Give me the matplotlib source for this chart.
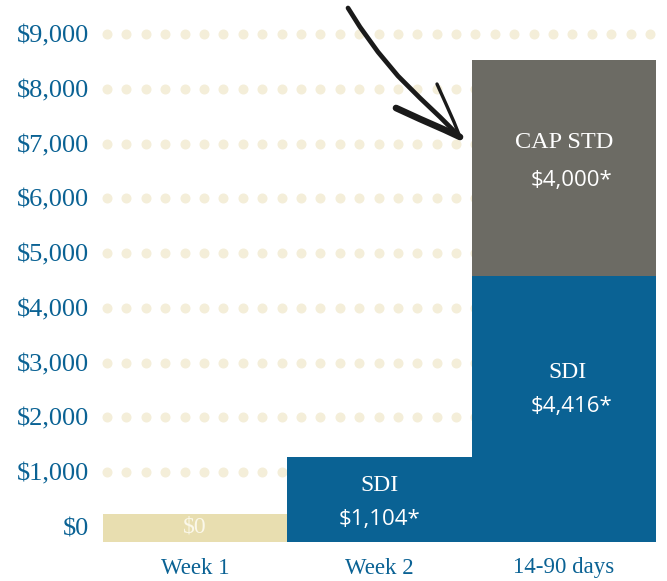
import matplotlib
matplotlib.use('Agg')
import matplotlib.pyplot as plt
import numpy as np

# --- data ---
categories = ['Week 1', 'Week 2', '14-90 days']
bar_base = -280                      # bars sit a little below the $0 line
week1_top = 235
sdi_tops = [1275, 4580]              # Week 2, 14-90 days
cap_std_top = 8525
y_ticks = [0, 1000, 2000, 3000, 4000, 5000, 6000, 7000, 8000, 9000]
y_tick_labels = ['$0', '$1,000', '$2,000', '$3,000', '$4,000',
                 '$5,000', '$6,000', '$7,000', '$8,000', '$9,000']

BLUE = '#0a6294'
BEIGE = '#e8deb0'
GRAY = '#6c6b64'
DOT = '#f4eed9'
SERIF = 'Liberation Serif'
SANS = 'Open Sans'

W, H = 667, 581
fig = plt.figure(figsize=(W / 100, H / 100), dpi=100)
ax = fig.add_axes([100 / W, (H - 545) / H, 567 / W, 545 / H])
ax.set_xlim(-0.515, 2.558)
ax.set_ylim(-333, 9621)

# --- dotted grid rows ---
dot_x = np.linspace(-0.477, 2.466, 29)
for yv in y_ticks[1:]:
    ax.scatter(dot_x, [yv] * len(dot_x), s=52, color=DOT, linewidths=0, zorder=1)

# --- bars ---
ax.bar(0, week1_top - bar_base, bottom=bar_base, width=1.0, color=BEIGE, zorder=2)
ax.bar([1, 2], [t - bar_base for t in sdi_tops], bottom=bar_base, width=1.0,
       color=BLUE, zorder=2)
ax.bar(2, cap_std_top - sdi_tops[1], bottom=sdi_tops[1], width=1.0,
       color=GRAY, zorder=2)

# --- labels inside bars ---
ax.text(0, 0, '$0', ha='center', va='center', family=SERIF, fontsize=17,
        color='#fbf8ea', zorder=3)
ax.text(1, 750, 'SDI', ha='center', va='center', family=SERIF, fontsize=17,
        color='white', zorder=3)
ax.text(1, 140, '$1,104*', ha='center', va='center', family=SANS, fontsize=16,
        color='white', zorder=3)
ax.text(2.02, 2820, 'SDI', ha='center', va='center', family=SERIF, fontsize=17,
        color='white', zorder=3)
ax.text(2.04, 2200, '$4,416*', ha='center', va='center', family=SANS, fontsize=16,
        color='white', zorder=3)
ax.text(2.0, 7010, 'CAP STD', ha='center', va='center', family=SERIF, fontsize=17.5,
        color='white', zorder=3)
ax.text(2.04, 6330, '$4,000*', ha='center', va='center', family=SANS, fontsize=16,
        color='white', zorder=3)

# --- axes styling ---
ax.set_yticks(y_ticks)
ax.set_yticklabels(y_tick_labels, family=SERIF, fontsize=19, color=BLUE)
ax.set_xticks(range(len(categories)))
ax.set_xticklabels(categories, family=SERIF, fontsize=16.5, color=BLUE)
ax.tick_params(axis='y', length=0, pad=8)
ax.tick_params(axis='x', length=0, pad=9)
for s in ax.spines.values():
    s.set_visible(False)

# --- hand-drawn arrow (figure pixel coords, y from top) ---
def px(pts):
    return [p[0] / W for p in pts], [1 - p[1] / H for p in pts]

shaft = [(348, 8), (360, 27), (378, 52), (398, 76), (420, 98), (440, 117), (460, 137)]
barb_left = [(396, 108), (420, 119), (445, 130), (460, 137)]
barb_right = [(437, 84), (446, 104), (454, 122), (460, 137)]
for pts, lw in [(shaft, 3.4), (barb_left, 4.8), (barb_right, 2.4)]:
    xs, ys = px(pts)
    fig.add_artist(plt.Line2D(xs, ys, transform=fig.transFigure, color='#1a1a1a',
                              linewidth=lw, solid_capstyle='round', zorder=5))

fig.savefig('out.png', dpi=100)
